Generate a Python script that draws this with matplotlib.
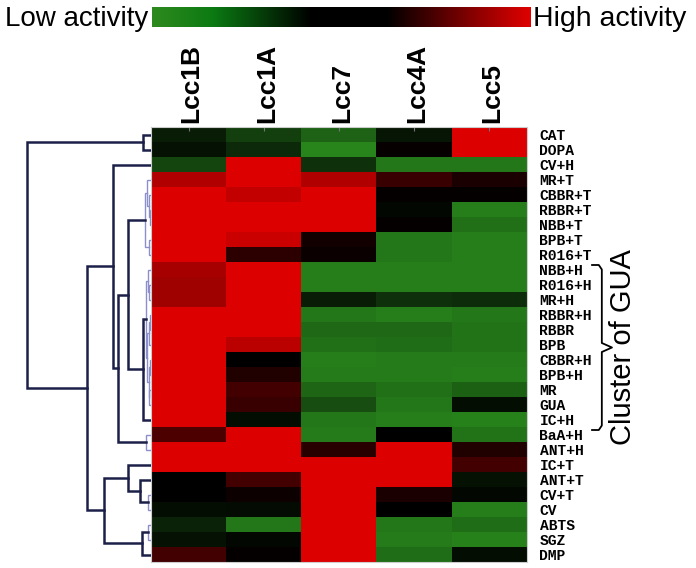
import numpy as np
import matplotlib
matplotlib.use('Agg')
import matplotlib.pyplot as plt
from matplotlib.colors import LinearSegmentedColormap
from matplotlib.transforms import blended_transform_factory

# substrates (rows, top to bottom) and laccases (columns)
substrates = ['CAT', 'DOPA', 'CV+H', 'MR+T', 'CBBR+T', 'RBBR+T', 'NBB+T', 'BPB+T', 'R016+T',
              'NBB+H', 'R016+H', 'MR+H', 'RBBR+H', 'RBBR', 'BPB', 'CBBR+H', 'BPB+H', 'MR',
              'GUA', 'IC+H', 'BaA+H', 'ANT+H', 'IC+T', 'ANT+T', 'CV+T', 'CV', 'ABTS', 'SGZ', 'DMP']
enzymes = ['Lcc1B', 'Lcc1A', 'Lcc7', 'Lcc4A', 'Lcc5']

# relative activity, -1 = low (green), +1 = high (red)
lcc1b = [-0.2, -0.12, -0.5, 0.8, 1.0, 1.0, 1.0, 1.0, 1.0, 0.75, 0.72, 0.72, 1.0, 1.0, 1.0,
         1.0, 1.0, 1.0, 1.0, 1.0, 0.35, 1.0, 1.0, 0.0, 0.0, -0.1, -0.25, -0.12, 0.3]
lcc1a = [-0.45, -0.3, 1.0, 1.0, 0.88, 1.0, 1.0, 0.92, 0.2, 1.0, 1.0, 1.0, 1.0, 1.0, 0.85,
         0.0, 0.15, 0.3, 0.25, -0.1, 1.0, 1.0, 1.0, 0.3, 0.06, -0.08, -0.85, -0.05, 0.02]
lcc7 = [-0.7, -0.95, -0.35, 0.8, 1.0, 1.0, 1.0, 0.08, 0.05, -0.9, -0.9, -0.2, -0.85, -0.75, -0.8,
        -0.9, -0.88, -0.72, -0.55, -0.85, -0.88, 0.18, 1.0, 1.0, 1.0, 1.0, 1.0, 1.0, 1.0]
lcc4a = [-0.15, 0.03, -0.85, 0.25, 0.02, -0.05, 0.02, -0.85, -0.85, -0.9, -0.9, -0.35, -0.9, -0.75, -0.78,
         -0.88, -0.88, -0.8, -0.85, -0.9, 0.0, 1.0, 1.0, 1.0, 0.12, 0.0, -0.85, -0.88, -0.78]
lcc5 = [1.0, 1.0, -0.85, 0.12, 0.02, -0.9, -0.8, -0.9, -0.9, -0.9, -0.9, -0.32, -0.85, -0.82, -0.82,
        -0.88, -0.9, -0.68, -0.1, -0.92, -0.82, 0.15, 0.3, -0.12, -0.05, -0.9, -0.78, -0.92, -0.1]

# row dendrogram: (left, right, merge height), leaves are row indices
fine_a = ((3, (4, (5, 6, 0.01), 0.02), 0.035), (7, 8, 0.02), 0.05)
fine_b = ((9, (10, 11, 0.015), 0.025),
          (((12, 13, 0.01), 14, 0.02), ((15, 16, 0.01), (17, 18, 0.015), 0.02), 0.03), 0.04)
upper = (2, (((fine_a, (fine_b, 19, 0.065), 0.185)), (20, 21, 0.04), 0.27), 0.31)
lower = ((22, (23, (24, 25, 0.025), 0.09), 0.185), ((26, 27, 0.025), 28, 0.07), 0.38)
row_tree = ((0, 1, 0.065), (upper, lower, 0.52), 1.0)

cluster_span = ('NBB+H', 'IC+H')

data = np.array([lcc1b, lcc1a, lcc7, lcc4a, lcc5]).T
cmap = LinearSegmentedColormap.from_list('gkr', ['#2a8c1e', '#000000', '#dc0000'])
# the colour key is drawn with a wider black band, as in the original figure
key_cmap = LinearSegmentedColormap.from_list(
    'key', [(0, '#2e8a1e'), (0.16, '#0b7a12'), (0.42, '#000000'), (0.62, '#000000'), (1, '#e00000')])

W, H = 696, 568
fig = plt.figure(figsize=(W / 100, H / 100), dpi=100)

hm_left, hm_right, hm_top, hm_bot = 151, 527, 127, 562
ax = fig.add_axes([hm_left / W, 1 - hm_bot / H, (hm_right - hm_left) / W, (hm_bot - hm_top) / H])
ax.imshow(data, cmap=cmap, vmin=-1, vmax=1, aspect='auto', interpolation='nearest')
for s in ax.spines.values():
    s.set_color('#cccccc')
    s.set_linewidth(0.8)

ax.set_xticks(range(len(enzymes)))
ax.set_xticklabels([])
ax.tick_params(axis='x', top=True, bottom=False, direction='in', length=3, color='#777777')
tr = blended_transform_factory(ax.transData, ax.transAxes)
for i, name in enumerate(enzymes):
    ax.text(i + 0.04, 1.01, name, transform=tr, rotation=90, ha='center', va='bottom',
            fontsize=19, fontweight='bold', family='Liberation Sans')

ax.yaxis.tick_right()
ax.set_yticks(range(len(substrates)))
ax.set_yticklabels(substrates, family='Liberation Mono', fontweight='bold', fontsize=10.5)
ax.tick_params(axis='y', length=0, pad=9)

# bracket for the GUA cluster
i0 = substrates.index(cluster_span[0]) - 0.3
i1 = substrates.index(cluster_span[1]) + 0.7
ym = (i0 + i1) / 2
x0, x1, x2 = 1.173, 1.199, 1.226
bt = blended_transform_factory(ax.transAxes, ax.transData)
bx = [x0, x1 - 0.008, x1, x1, x2, x1, x1, x1 - 0.008, x0]
by = [i0, i0, i0 + 0.3, ym - 0.3, ym, ym + 0.3, i1 - 0.3, i1, i1]
ax.plot(bx, by, color='black', lw=1.3, transform=bt, clip_on=False)
ax.text(1.255, ym, 'Cluster of GUA', transform=bt, rotation=90, ha='center', va='center',
        fontsize=21, family='Liberation Sans')

# dendrogram on the left
dax = fig.add_axes([0, 1 - hm_bot / H, hm_left / W, (hm_bot - hm_top) / H])
dax.set_xlim(hm_left / 124, 0)
dax.set_ylim(len(substrates) - 0.5, -0.5)
dax.axis('off')


def draw_node(node):
    if isinstance(node, int):
        return node, 0.0
    left, right, h = node
    y1, h1 = draw_node(left)
    y2, h2 = draw_node(right)
    if h < 0.06 and h1 < 0.06 and h2 < 0.06:
        col, lw = '#8c8fcc', 1.0
    else:
        col, lw = '#1c2048', 1.8
    dax.plot([h1, h, h, h2], [y1, y1, y2, y2], color=col, lw=lw, solid_joinstyle='miter')
    return (y1 + y2) / 2, h


draw_node(row_tree)

# colour key on top
cax = fig.add_axes([152 / W, 1 - 27 / H, 378 / W, 20 / H])
cax.imshow(np.linspace(0, 1, 256)[None, :], cmap=key_cmap, vmin=0, vmax=1, aspect='auto')
cax.axis('off')
fig.text(148 / W, 1 - 26 / H, 'Low activity', ha='right', va='baseline', fontsize=20,
         family='Liberation Sans')
fig.text(533 / W, 1 - 26 / H, 'High activity', ha='left', va='baseline', fontsize=20.5,
         family='Liberation Sans')

fig.savefig('out.png', dpi=100)
